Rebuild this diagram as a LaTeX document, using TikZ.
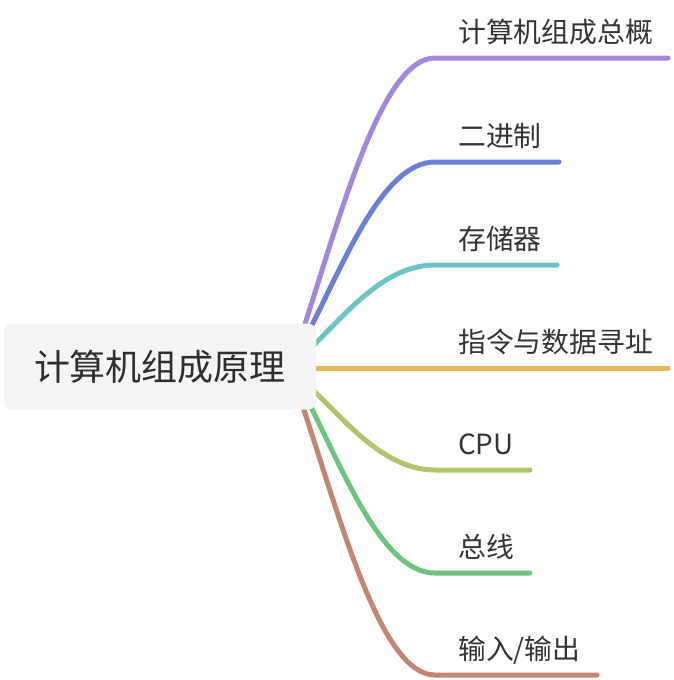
\documentclass[tikz,border=0pt]{standalone}
\usepackage{fontspec}
\setmainfont{Noto Sans CJK SC}
\definecolor{cPurple}{RGB}{163,135,220}
\definecolor{cBlue}{RGB}{107,127,215}
\definecolor{cTeal}{RGB}{108,196,196}
\definecolor{cYellow}{RGB}{224,186,86}
\definecolor{cLime}{RGB}{176,196,106}
\definecolor{cGreen}{RGB}{108,196,127}
\definecolor{cBrown}{RGB}{196,134,116}
\definecolor{txt}{RGB}{51,51,51}
\definecolor{rootfill}{RGB}{244,244,244}
\begin{document}
\begin{tikzpicture}[x=1pt,y=-1pt,
  branch/.style={line width=5pt,line cap=round},
  lbl/.style={anchor=base west,inner sep=0pt,text=txt,font=\fontsize{27.8}{30}\selectfont},
  rootbox/.style={fill=rootfill,rounded corners=8pt,minimum width=312pt,minimum height=86pt,inner sep=0pt,text=txt!90!black,font=\fontsize{36}{40}\selectfont}]
\useasboundingbox (0,0) rectangle (674,680);
% coordinates
\coordinate (s1) at (304,327); \coordinate (e1) at (435,58);  \coordinate (t1) at (668,58);
\coordinate (s2) at (311,327); \coordinate (e2) at (435,162); \coordinate (t2) at (559,162);
\coordinate (s3) at (312,347); \coordinate (e3) at (435,265); \coordinate (t3) at (557,265);
\coordinate (s4) at (312,368); \coordinate (t4) at (668,368);
\coordinate (s5) at (312,389); \coordinate (e5) at (435,470); \coordinate (t5) at (530,470);
\coordinate (s6) at (311,407); \coordinate (e6) at (435,573); \coordinate (t6) at (530,573);
\coordinate (s7) at (303,407); \coordinate (e7) at (435,675); \coordinate (t7) at (597,675);
% branches
\draw[branch,cPurple] (s1) .. controls (343,206) and (383,58) .. (e1) -- (t1);
\draw[branch,cBlue] (s2) .. controls (348,253) and (385,162) .. (e2) -- (t2);
\draw[branch,cTeal] (s3) .. controls (349,310) and (386,265) .. (e3) -- (t3);
\draw[branch,cYellow] (s4) -- (t4);
\draw[branch,cLime] (s5) .. controls (349,425) and (386,470) .. (e5) -- (t5);
\draw[branch,cGreen] (s6) .. controls (348,482) and (385,573) .. (e6) -- (t6);
\draw[branch,cBrown] (s7) .. controls (343,528) and (382,675) .. (e7) -- (t7);
% root
\node[rootbox] (root) at (160,366.5) {计算机组成原理};
% labels
\node[lbl] (l1) at (458,42) {计算机组成总概};
\node[lbl] (l2) at (458,146) {二进制};
\node[lbl] (l3) at (458,249) {存储器};
\node[lbl] (l4) at (458,352) {指令与数据寻址};
\node[lbl] (l5) at (458,454) {CPU};
\node[lbl] (l6) at (458,557) {总线};
\node[lbl] (l7) at (458,659) {输入/输出};
\end{tikzpicture}
\end{document}
